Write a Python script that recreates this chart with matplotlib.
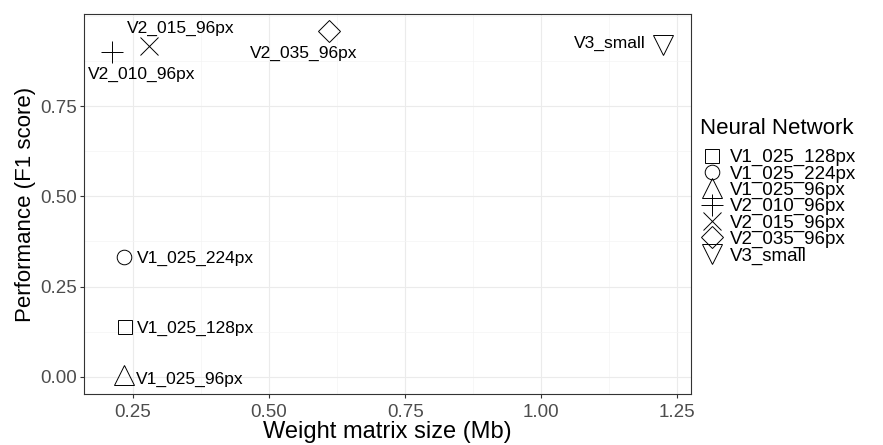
import matplotlib
matplotlib.use("Agg")
import matplotlib.pyplot as plt
from matplotlib.ticker import MultipleLocator

plt.rcParams['font.family'] = ['Liberation Sans', 'DejaVu Sans']

# data
networks = ['V1_025_128px', 'V1_025_224px', 'V1_025_96px', 'V2_010_96px',
            'V2_015_96px', 'V2_035_96px', 'V3_small']
weight_mb = [0.235, 0.234, 0.233, 0.211, 0.279, 0.610, 1.224]
f1_score = [0.139, 0.332, 0.005, 0.900, 0.917, 0.958, 0.920]
markers = ['s', 'o', '^', '+', 'x', 'D', 'v']
marker_sizes = [10.5, 10.5, 14, 16, 12.5, 11, 15]

# label offsets (points) and alignment, roughly like ggrepel placed them
label_pos = {
    'V1_025_128px': ((9, -1), 'left'),
    'V1_025_224px': ((9, -1), 'left'),
    'V1_025_96px': ((9, -3), 'left'),
    'V2_010_96px': ((-17, -16), 'left'),
    'V2_015_96px': ((-16, 13), 'left'),
    'V2_035_96px': ((-18, -16), 'center'),
    'V3_small': ((-13, 1), 'right'),
}

fig = plt.figure(figsize=(8.83, 4.45), dpi=100)
ax = fig.add_axes([84/883, 1-394/445, (691-84)/883, (394-14)/445])

for name, x, y, m, ms in zip(networks, weight_mb, f1_score, markers, marker_sizes):
    ax.plot(x, y, linestyle='none', marker=m, markersize=ms,
            markerfacecolor='none', markeredgecolor='black',
            markeredgewidth=0.7, label=name)
    off, ha = label_pos[name]
    ax.annotate(name, (x, y), xytext=off, textcoords='offset points',
                ha=ha, va='center', fontsize=12.5, color='black')

# ggplot style 5% expansion
ax.set_xlim(0.160, 1.275)
ax.set_ylim(-0.048, 1.006)
ax.xaxis.set_minor_locator(MultipleLocator(0.125))
ax.yaxis.set_minor_locator(MultipleLocator(0.125))
ax.set_xticks([0.25, 0.5, 0.75, 1.0, 1.25])
ax.set_xticklabels(['0.25', '0.50', '0.75', '1.00', '1.25'])
ax.set_yticks([0.0, 0.25, 0.5, 0.75])
ax.set_yticklabels(['0.00', '0.25', '0.50', '0.75'])

ax.grid(which='major', color='#ebebeb', linewidth=0.8)
ax.grid(which='minor', color='#f4f4f4', linewidth=0.5)
ax.set_axisbelow(True)
for s in ax.spines.values():
    s.set_color('#333333')
    s.set_linewidth(0.8)
ax.tick_params(which='major', length=3, color='#333333', labelsize=13.5,
               labelcolor='#4d4d4d')
ax.tick_params(axis='x', pad=4)
ax.tick_params(axis='y', pad=2)
ax.tick_params(which='minor', length=0)

ax.set_xlabel('Weight matrix size (Mb)', fontsize=17, labelpad=0)
ax.set_ylabel('Performance (F1 score)', fontsize=16, labelpad=3)

# legend: title as separate text so the gap to the keys can be set
fig.text(700/883, 1-128/445, 'Neural Network', fontsize=16,
         ha='left', va='center')
handles, labels = ax.get_legend_handles_labels()
leg = fig.legend(handles, labels, loc='upper left',
                 bbox_to_anchor=(703/883, 1-149/445), frameon=False,
                 fontsize=13.5, labelspacing=-0.05,
                 handletextpad=0.45, handlelength=1.0, borderaxespad=0,
                 borderpad=0)

fig.savefig('out.png', dpi=100)
